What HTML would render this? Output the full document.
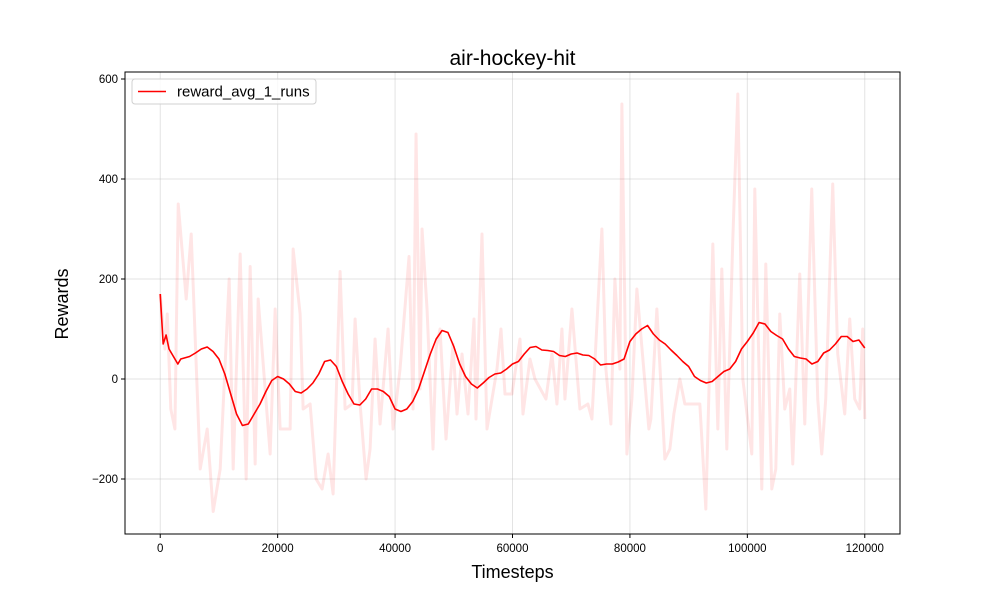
<!DOCTYPE html>
<html><head><meta charset="utf-8"><style>
body{margin:0;background:#fff;}
svg text{font-family:"Liberation Sans","DejaVu Sans",sans-serif;}
</style></head><body>
<svg id="chart" width="1000" height="600">
<rect width="1000" height="600" fill="#fff"/>
</svg>
<script>
const rawT=[0,800,1200,1800,2500,3064,4425,5276,6808,8000,9021,10212,11744,12425,13616,14637,15318,16169,16680,18722,19573,20424,22126,22637,23828,24339,25530,26551,27572,28594,29445,30636,31487,32678,33189,34040,35061,35742,36593,37444,38806,39657,40848,42380,43060,43571,44252,44593,45444,46465,46976,47657,48677,49869,50550,51401,52422,53443,53783,54804,55655,57357,58038,58719,59910,61272,61782,62974,63825,65697,66718,67569,68420,68931,70122,71484,72846,73526,75228,75909,76760,77441,78292,78632,79483,80334,81185,82207,83228,83568,84589,85951,86802,87483,88504,89355,91908,92929,94121,94972,95652,96503,97525,98376,99227,100758,101269,102460,103141,104162,104843,105524,106375,107226,107737,108928,109779,110970,111991,112672,113353,114544,115395,116586,117437,118288,119139,119650,120000];
const rawV=[170,60,130,-60,-100,350,160,290,-180,-100,-265,-180,200,-180,250,-200,225,-170,160,-150,140,-100,-100,260,130,-60,-50,-200,-220,-150,-230,215,-60,-50,120,-50,-200,-140,80,-90,100,-100,20,245,-60,490,-20,300,140,-140,60,100,-120,70,-70,50,-70,120,-80,290,-100,20,100,-30,-30,80,-70,40,0,-40,50,-50,100,-40,140,-60,-50,-80,300,20,-90,200,20,550,-150,-40,180,40,-100,-80,140,-160,-140,-70,0,-50,-50,-260,270,-100,220,-140,280,570,0,-150,380,-220,230,-220,-180,130,-60,-20,-170,210,-90,380,-40,-150,-40,390,50,-70,120,-40,-60,100,-80];
const smT=[0,500,1000,1500,3000,3500,5000,6000,7000,8000,9000,10000,11000,12000,13000,14000,15000,16000,17000,18000,19000,20000,21000,22000,23000,24000,25000,26000,27000,28000,29000,30000,31000,32000,33000,34000,35000,36000,37000,38000,39000,40000,41000,42000,43000,44000,45000,46000,47000,48000,49000,50000,51000,52000,53000,54000,55000,56000,57000,58000,59000,60000,61000,62000,63000,64000,65000,66000,67000,68000,69000,70000,71000,72000,73000,74000,75000,76000,77000,78000,79000,80000,81000,82000,83000,84000,85000,86000,87000,88000,89000,90000,91000,92000,93000,94000,95000,96000,97000,98000,99000,100000,101000,102000,103000,104000,105000,106000,107000,108000,109000,110000,111000,112000,113000,114000,115000,116000,117000,118000,119000,120000];
const smV=[170,70,88,60,30,40,45,52,60,64,55,40,10,-30,-70,-93,-90,-70,-50,-25,-3,5,0,-10,-25,-28,-20,-8,10,35,38,25,-5,-30,-50,-52,-40,-20,-20,-25,-35,-60,-65,-60,-45,-20,15,50,80,97,93,65,30,5,-10,-18,-8,3,10,12,20,30,35,50,63,65,58,57,55,47,45,50,52,48,47,40,28,30,30,34,40,75,90,100,107,90,78,70,58,47,35,25,5,-3,-8,-5,5,15,20,35,60,75,92,113,110,95,87,80,60,45,42,40,30,35,52,58,70,85,85,75,78,62];
const xTicks=[0,20000,40000,60000,80000,100000,120000];
const yTicks=[-200,0,200,400,600];
const yTickLabels=["\u2212200","0","200","400","600"];

const L=125,R=900,T=72,B=534;
const xMin=-6000,xMax=126000,yMin=-310,yMax=614;
const sx=t=>L+(t-xMin)/(xMax-xMin)*(R-L);
const sy=v=>B-(v-yMin)/(yMax-yMin)*(B-T);
const svg=document.getElementById('chart');
const NS='http://www.w3.org/2000/svg';
function mk(tag,attrs,parent){const e=document.createElementNS(NS,tag);for(const k in attrs)e.setAttribute(k,attrs[k]);(parent||svg).appendChild(e);return e;}

const grid=mk('g',{});


xTicks.forEach(t=>{const l=mk('line',{x1:sx(t),x2:sx(t),y1:T,y2:B,stroke:'#b0b0b0','stroke-opacity':0.35,'stroke-width':1},grid);

});
yTicks.forEach(v=>{const l=mk('line',{x1:L,x2:R,y1:sy(v),y2:sy(v),stroke:'#b0b0b0','stroke-opacity':0.35,'stroke-width':1},grid);

});

const raw=mk('polyline',{points:rawT.map((t,i)=>sx(t)+','+sy(rawV[i])).join(' '),fill:'none',stroke:'#ff0000','stroke-opacity':0.1,'stroke-width':3,'stroke-linejoin':'round'});


const sm=mk('polyline',{points:smT.map((t,i)=>sx(t)+','+sy(smV[i])).join(' '),fill:'none',stroke:'#ff0000','stroke-width':1.6,'stroke-linejoin':'round'});



const frame=mk('rect',{x:L,y:T,width:R-L,height:B-T,fill:'none',stroke:'#000','stroke-width':1});



xTicks.forEach(t=>{const x=sx(t);
const tk=mk('line',{x1:x,x2:x,y1:B,y2:B+4,stroke:'#000'});


const tx=mk('text',{x:x,y:B+18,'text-anchor':'middle','font-size':11.5,fill:'#000'});tx.textContent=String(t);

});
yTicks.forEach((v,i)=>{const y=sy(v);
const tk=mk('line',{x1:L-4,x2:L,y1:y,y2:y,stroke:'#000'});


const tx=mk('text',{x:L-7,y:y+4,'text-anchor':'end','font-size':11.5,fill:'#000'});tx.textContent=yTickLabels[i];

});

const title=mk('text',{x:(L+R)/2,y:65,'text-anchor':'middle','font-size':21,fill:'#000'});title.textContent='air-hockey-hit';


const xl=mk('text',{x:(L+R)/2,y:578,'text-anchor':'middle','font-size':18,fill:'#000'});xl.textContent='Timesteps';


const yl=mk('text',{x:0,y:0,'text-anchor':'middle','font-size':18,fill:'#000',transform:'translate(68,304) rotate(-90)'});yl.textContent='Rewards';



const lg=mk('g',{});


mk('rect',{x:132,y:79,width:184,height:25,rx:3,fill:'#fff','fill-opacity':0.8,stroke:'#d0d0d0'},lg);
mk('line',{x1:138,x2:166,y1:91.5,y2:91.5,stroke:'#ff0000','stroke-width':1.6},lg);
const lt=mk('text',{x:177,y:96.5,'font-size':15,fill:'#000'},lg);lt.textContent='reward_avg_1_runs';


</script>
</body></html>
